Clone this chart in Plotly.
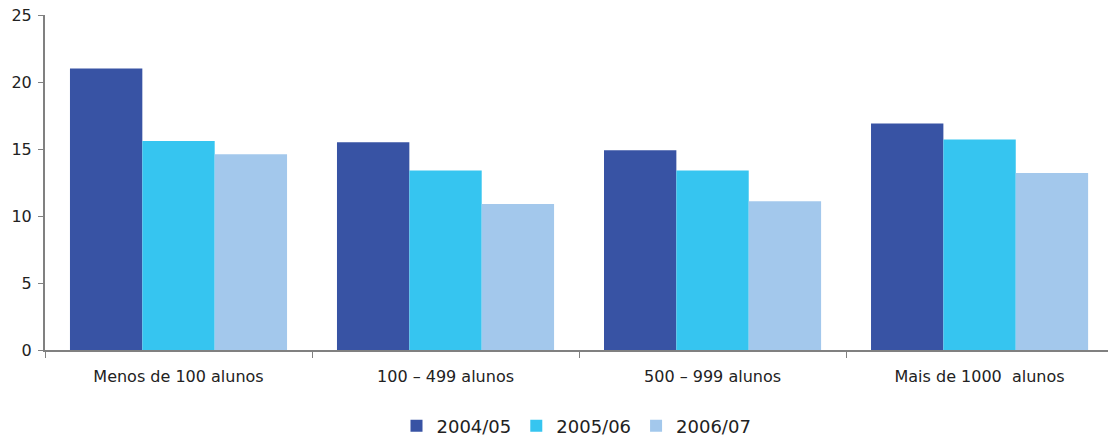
import plotly.graph_objects as go

categories = ["Menos de 100 alunos", "100 – 499 alunos", "500 – 999 alunos", "Mais de 1000\u00a0 alunos"]
series_names = ["2004/05", "2005/06", "2006/07"]
v_2004 = [21.0, 15.5, 14.9, 16.9]
v_2005 = [15.6, 13.4, 13.4, 15.7]
v_2006 = [14.6, 10.9, 11.1, 13.2]
colors = ["#3853A4", "#36C5F0", "#A3C8EC"]

fig = go.Figure()
for name, vals, col in zip(series_names, [v_2004, v_2005, v_2006], colors):
    fig.add_trace(go.Bar(x=categories, y=vals, name=name, marker=dict(color=col, line=dict(width=0))))

font = "DejaVu Sans, Verdana, sans-serif"
fig.update_layout(
    barmode="group",
    bargap=0.187,
    bargroupgap=0,
    width=1108, height=437,
    margin=dict(l=45, r=0, t=15, b=87),
    plot_bgcolor="white", paper_bgcolor="white",
    font=dict(family=font, size=16, color="#222222"),
    showlegend=True,
    legend=dict(orientation="h", x=0.5, xanchor="center", xref="paper",
                yref="container", y=0.025, yanchor="middle",
                font=dict(size=18), itemwidth=30, tracegroupgap=0),
    xaxis=dict(type="category", range=[-0.5, 3.481], showline=True, linecolor="#808080", linewidth=2,
               ticks="outside", tickson="boundaries", ticklen=6, tickcolor="#808080", tickwidth=1,
               showgrid=False, ticklabelstandoff=11),
    yaxis=dict(range=[0, 25], dtick=5, showline=True, linecolor="#808080", linewidth=2,
               ticks="outside", ticklen=5, tickcolor="#808080", tickwidth=1,
               showgrid=False, zeroline=False, ticklabelstandoff=3),
)
fig.write_html("out.html", config={"displayModeBar": False},
               post_script="document.body.style.margin='0px';")
